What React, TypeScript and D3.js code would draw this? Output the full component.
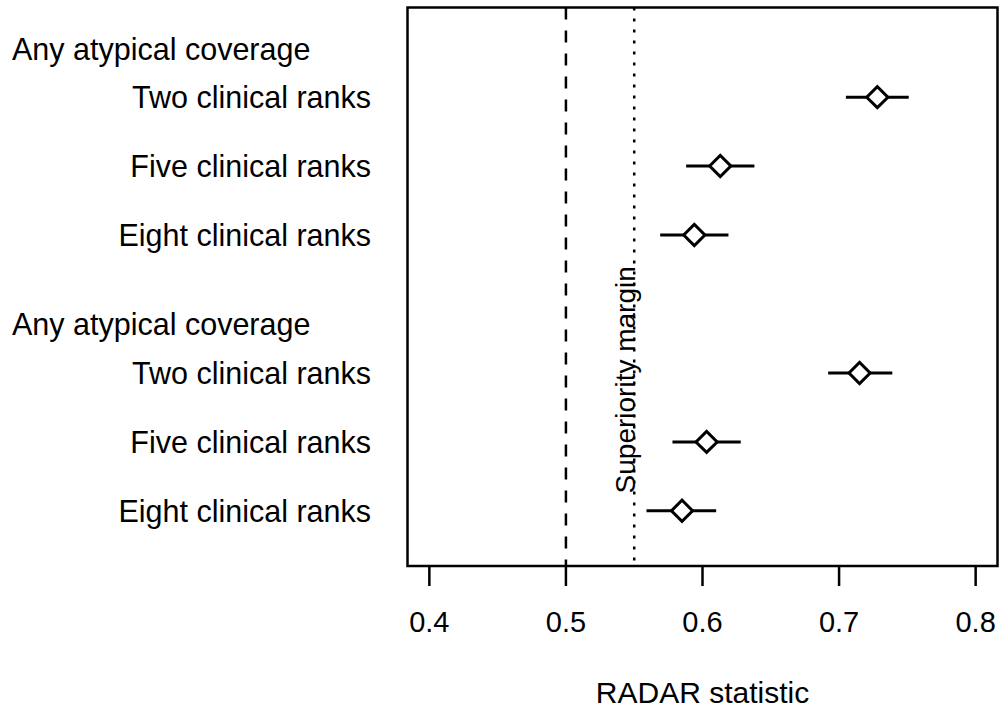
import React, { useEffect, useRef } from "react";
import * as d3 from "d3";

// forest-style dot chart, two groups of three rows
const groupLabels = ["Any atypical coverage", "Any atypical coverage"];
const groupPos = [7.7, 3.7];
const rowLabels = [
  "Two clinical ranks",
  "Five clinical ranks",
  "Eight clinical ranks",
  "Two clinical ranks",
  "Five clinical ranks",
  "Eight clinical ranks",
];
const rowPos = [7, 6, 5, 3, 2, 1];
const estimate = [0.728, 0.613, 0.594, 0.715, 0.603, 0.585];
const lower = [0.705, 0.588, 0.569, 0.692, 0.578, 0.559];
const upper = [0.751, 0.638, 0.619, 0.739, 0.628, 0.610];
const xTicks = [0.4, 0.5, 0.6, 0.7, 0.8];
const nullLine = 0.5;
const marginLine = 0.55;
const marginLabel = "Superiority margin";
const xTitle = "RADAR statistic";

const FONT = "'Liberation Sans', Arial, sans-serif";

export default function App() {
  const ref = useRef<SVGSVGElement>(null);

  useEffect(() => {
    const svg = d3.select(ref.current);
    svg.selectAll("*").remove();

    const x = d3.scaleLinear().domain([0.384, 0.816]).range([407.5, 997.5]);
    const y = d3.scaleLinear().domain([0.2, 8.3]).range([566, 7.5]);

    const g = svg.append("g").style("font-family", FONT);

    // reference lines
    g.append("line")
      .attr("x1", x(nullLine)).attr("x2", x(nullLine))
      .attr("y1", y(8.3)).attr("y2", y(0.2))
      .attr("stroke", "#000").attr("stroke-width", 2.5)
      .attr("stroke-dasharray", "12,11");
    g.append("line")
      .attr("x1", x(marginLine)).attr("x2", x(marginLine))
      .attr("y1", y(8.3)).attr("y2", y(0.2))
      .attr("stroke", "#000").attr("stroke-width", 2.5)
      .attr("stroke-dasharray", "3,8");

    g.append("text")
      .attr("transform", `translate(${x(marginLine) + 1},${y(2.9)}) rotate(-90)`)
      .attr("text-anchor", "middle")
      .style("font-size", "28px")
      .text(marginLabel);

    // whiskers
    g.selectAll(".ci")
      .data(estimate)
      .enter()
      .append("line")
      .attr("x1", (d, i) => x(lower[i]))
      .attr("x2", (d, i) => x(upper[i]))
      .attr("y1", (d, i) => y(rowPos[i]))
      .attr("y2", (d, i) => y(rowPos[i]))
      .attr("stroke", "#000")
      .attr("stroke-width", 3);

    // diamonds
    const diamond = d3.symbol().type(d3.symbolSquare).size(15 * 15);
    g.selectAll(".pt")
      .data(estimate)
      .enter()
      .append("path")
      .attr("d", diamond)
      .attr("transform", (d, i) => `translate(${x(d)},${y(rowPos[i])}) rotate(45)`)
      .attr("fill", "#fff")
      .attr("stroke", "#000")
      .attr("stroke-width", 3);

    // box
    g.append("rect")
      .attr("x", x(0.384)).attr("y", y(8.3))
      .attr("width", x(0.816) - x(0.384))
      .attr("height", y(0.2) - y(8.3))
      .attr("fill", "none")
      .attr("stroke", "#000")
      .attr("stroke-width", 2.5);

    // x axis
    const ax = g.append("g").attr("transform", `translate(0,${y(0.2)})`);
    ax.selectAll(".tk")
      .data(xTicks)
      .enter()
      .append("line")
      .attr("x1", d => x(d)).attr("x2", d => x(d))
      .attr("y1", 0).attr("y2", 20)
      .attr("stroke", "#000").attr("stroke-width", 2.5);
    ax.selectAll(".tl")
      .data(xTicks)
      .enter()
      .append("text")
      .attr("x", d => x(d))
      .attr("y", 66)
      .attr("text-anchor", "middle")
      .style("font-size", "29px")
      .text(d => d3.format(".1f")(d));

    g.append("text")
      .attr("x", (x(0.384) + x(0.816)) / 2)
      .attr("y", 703)
      .attr("text-anchor", "middle")
      .style("font-size", "30px")
      .text(xTitle);

    // row labels
    g.selectAll(".rl")
      .data(rowLabels)
      .enter()
      .append("text")
      .attr("x", 371)
      .attr("y", (d, i) => y(rowPos[i]))
      .attr("dy", "0.35em")
      .attr("text-anchor", "end")
      .style("font-size", "30.5px")
      .text(d => d);
    g.selectAll(".gl")
      .data(groupLabels)
      .enter()
      .append("text")
      .attr("x", 12)
      .attr("y", (d, i) => y(groupPos[i]))
      .attr("dy", "0.35em")
      .style("font-size", "30.5px")
      .text(d => d);
  }, []);

  return (
    <svg
      ref={ref}
      width={1000}
      height={711}
      style={{ position: "absolute", left: 0, top: 0, background: "#fff" }}
    />
  );
}
